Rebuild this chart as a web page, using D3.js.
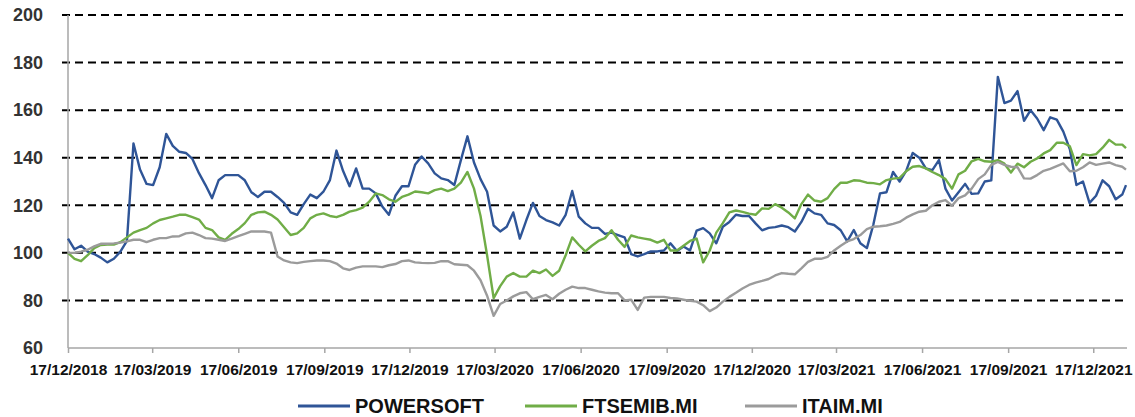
<!DOCTYPE html>
<html>
<head>
<meta charset="utf-8">
<script src="https://cdn.jsdelivr.net/npm/d3@7"></script>
<style>
  body { margin: 0; background: #fff; }
  svg { display: block; }
  text { font-family: "Liberation Sans", Arial, sans-serif; font-weight: bold; }
</style>
</head>
<body>
<div id="chart"></div>
<script>
// weekly observations (Mondays) from startDay to lastMonday, then the last close
const startDay = "2018-12-17";
const lastMonday = "2022-01-17";
const endDay = "2022-01-21";

const tickLabels = ["17/12/2018", "17/03/2019", "17/06/2019", "17/09/2019", "17/12/2019",
  "17/03/2020", "17/06/2020", "17/09/2020", "17/12/2020", "17/03/2021",
  "17/06/2021", "17/09/2021", "17/12/2021"];
const yTicks = [60, 80, 100, 120, 140, 160, 180, 200];

const seriesNames = ["POWERSOFT", "FTSEMIB.MI", "ITAIM.MI"];
const seriesColors = ["#2f5597", "#70ad47", "#9b9b9b"];

const powersoft = [
  106, 101.5, 103, 100.5, 99.5, 98, 96, 97.5, 100.5, 105,
  146, 135, 129, 128.5, 136, 150, 145, 142.5, 142, 139.5,
  133.5, 128.5, 123, 130.5, 132.7, 132.7, 132.7, 130.5, 125.5, 123.5,
  125.7, 125.7, 123.5, 121, 117, 116, 120.5, 124.5, 123, 125.7,
  130.6, 143, 134.5, 128, 135.5, 127, 127, 125, 119.5, 116,
  124, 128, 128, 137, 140.5, 137.6, 133.4, 131.3, 130.6, 128.5,
  139, 149, 138, 131, 125.7, 111.5, 109, 111, 117, 106,
  113.8, 121, 115.5, 113.8, 112.8, 111.5, 116, 126, 115.2, 112.4,
  110.5, 110.5, 108, 108.5, 107.5, 106.5, 99.5, 98.5, 99.5, 100.6,
  100.6, 101, 104, 100.8, 102.7, 101, 109.3, 110.4, 108.2, 104,
  111, 113, 116, 115.5, 115.5, 112.4, 109.5, 110.5, 110.8, 111.5,
  110.8, 109, 113, 118.5, 116.6, 116, 112.4, 111.7, 109.5, 104.8,
  109.6, 104, 102, 112, 125, 125.5, 134, 130, 134.5, 142,
  140, 135.5, 134.8, 139, 127, 122, 125.5, 129, 124.8, 125,
  130, 130.5, 174, 163, 164, 168, 155.5, 160, 156.5, 151.6,
  157, 156, 151, 143.5, 128.5, 130, 121, 124, 130.5, 128,
  122.5, 124.5, 128.5
];

const ftsemib = [
  100, 97.5, 96.5, 99, 102, 103.3, 103.5, 103.5, 104.5, 106.5,
  108.5, 109.6, 110.5, 112.4, 113.8, 114.5, 115.2, 116, 116, 115,
  114, 110.5, 109.6, 106.5, 105.5, 108, 110, 112.5, 116, 117,
  117.3, 116, 114, 110.8, 107.5, 108.2, 110.5, 114.5, 116, 116.6,
  115.5, 115, 116, 117.3, 118, 119, 121.5, 125, 124.3, 122.5,
  121.5, 123.5, 124.5, 125.8, 125.5, 125, 126.4, 127, 126, 127,
  129.5, 134, 127, 115.5, 99, 81, 86, 90, 91.5, 90,
  90, 92.5, 91.5, 93, 90.3, 92.5, 99, 106.5, 103.4, 100.6,
  103, 105, 106.2, 109.5, 105.5, 102.5, 107.3, 106.5, 106, 105.5,
  104.3, 105.5, 101, 101, 103, 105, 106, 96, 101, 108.5,
  112.5, 117, 117.8, 117.2, 116.5, 116, 118.7, 118.5, 120.5, 119,
  117, 114.5, 120.5, 124.5, 122, 121.5, 123, 126.8, 129.5, 129.5,
  130.5, 130.3, 129.5, 129.3, 128.8, 130.6, 131.2, 131.5, 134.3, 136.2,
  136.5, 135.5, 134, 132.7, 131, 127, 133, 134.5, 138.5, 139.5,
  138.5, 138.3, 139, 137.5, 133.8, 137.5, 136, 138.3, 139.7, 141.8,
  143.2, 146.3, 146.3, 144.8, 136.9, 141.5, 141, 141.5, 144.2, 147.5,
  145.5, 145.5, 144
];

const itaim = [
  100, 100, 100.5, 101.3, 102.7, 103.8, 103.8, 104, 104.3, 104.8,
  105.5, 105.5, 104.5, 105.5, 106.2, 106.2, 106.9, 107, 108.2, 108.5,
  107.5, 106.2, 106, 105.5, 105, 106, 107, 108, 109, 109,
  109, 108.5, 98.5, 96.8, 96, 95.7, 96.2, 96.5, 96.8, 96.8,
  96.5, 95.5, 93.5, 92.8, 93.8, 94.3, 94.3, 94.3, 94, 94.8,
  95.3, 96.5, 96.8, 96, 95.8, 95.7, 95.8, 96.5, 96.5, 95.2,
  95, 94.8, 92.5, 88.5, 82, 73.5, 78.5, 80, 81.7, 83,
  83.5, 80.5, 81.5, 82.3, 80.5, 82.8, 84.5, 85.8, 85.2, 85.2,
  84.5, 83.8, 83.3, 83, 83, 80, 80.3, 76, 81.2, 81.5,
  81.5, 81.5, 81, 80.8, 80.3, 79.8, 79.5, 78, 75.5, 77,
  79.5, 81.5, 83.2, 85, 86.5, 87.5, 88.2, 89, 90.5, 91.5,
  91.2, 91, 93.5, 96.2, 97.5, 97.5, 98.3, 101, 103, 104.8,
  105.8, 107.5, 110, 111, 111.2, 111.5, 112.2, 113, 114.8, 116.2,
  117.3, 117.7, 120, 121.5, 122.2, 119.8, 123, 124.2, 127, 131,
  133, 137, 138.2, 137, 136.2, 136, 131.3, 131.2, 132.7, 134.5,
  135.3, 136.5, 137.6, 134.3, 134.5, 136, 138, 137, 137.5, 138,
  136.9, 136.2, 135
];

const width = 1135, height = 417;
const parse = d3.timeParse("%Y-%m-%d");
const parseTick = d3.timeParse("%d/%m/%Y");

const dates = d3.timeDay.range(parse(startDay), d3.timeDay.offset(parse(lastMonday), 1), 7)
  .concat([parse(endDay)]);
const tickDates = tickLabels.map(parseTick);

const x = d3.scaleTime()
  .domain([parse(startDay), parse(endDay)])
  .range([68, 1126]);
const y = d3.scaleLinear()
  .domain([60, 200])
  .range([348, 15]);

const svg = d3.select("#chart")
  .append("svg")
  .attr("width", width)
  .attr("height", height);

// gridlines
svg.append("g")
  .selectAll("line")
  .data(yTicks.filter(d => d > 60))
  .enter()
  .append("line")
  .attr("x1", 62)
  .attr("x2", 1127)
  .attr("y1", d => y(d))
  .attr("y2", d => y(d))
  .attr("stroke", "#000")
  .attr("stroke-width", 2)
  .attr("stroke-dasharray", "8,5");

// y axis labels
const yAxis = svg.append("g")
  .attr("transform", "translate(68,0)")
  .call(d3.axisLeft(y).tickValues(yTicks).tickSize(0).tickPadding(25));
yAxis.select(".domain").remove();
yAxis.selectAll("text")
  .attr("font-size", 18)
  .attr("font-family", null)
  .attr("fill", "#333");

svg.append("line")
  .attr("x1", 68).attr("x2", 68)
  .attr("y1", 15).attr("y2", 348)
  .attr("stroke", "#a6a6a6")
  .attr("stroke-width", 1.5);

// x axis
const xAxis = svg.append("g")
  .attr("transform", "translate(0,348)")
  .call(d3.axisBottom(x).tickValues(tickDates).tickSize(5).tickFormat((d, i) => tickLabels[i]));
xAxis.select(".domain")
  .attr("d", "M68,0H1127")
  .attr("stroke", "#a6a6a6")
  .attr("stroke-width", 1.5);
xAxis.selectAll(".tick line")
  .attr("stroke", "#a6a6a6")
  .attr("stroke-width", 1.5);
xAxis.selectAll("text")
  .attr("font-size", 15.5)
  .attr("font-family", null)
  .attr("fill", "#111")
  .attr("y", 27)
  .attr("dy", 0);

// series lines
const allSeries = [powersoft, ftsemib, itaim];
const line = d3.line()
  .x((d, i) => x(dates[i]))
  .y(d => y(d));

svg.append("g")
  .selectAll("path")
  .data(allSeries)
  .enter()
  .append("path")
  .attr("d", d => line(d))
  .attr("fill", "none")
  .attr("stroke", (d, i) => seriesColors[i])
  .attr("stroke-width", 2.4)
  .attr("stroke-linejoin", "round");

// legend
const legendX = [298, 525, 745];
const legend = svg.append("g")
  .selectAll("g")
  .data(seriesNames)
  .enter()
  .append("g")
  .attr("transform", (d, i) => `translate(${legendX[i]},406)`);
legend.append("line")
  .attr("x1", 0).attr("x2", 52)
  .attr("stroke", (d, i) => seriesColors[i])
  .attr("stroke-width", 3);
legend.append("text")
  .attr("x", 57)
  .attr("y", 7)
  .attr("font-size", 20)
  .attr("fill", "#111")
  .text(d => d);
</script>
</body>
</html>
